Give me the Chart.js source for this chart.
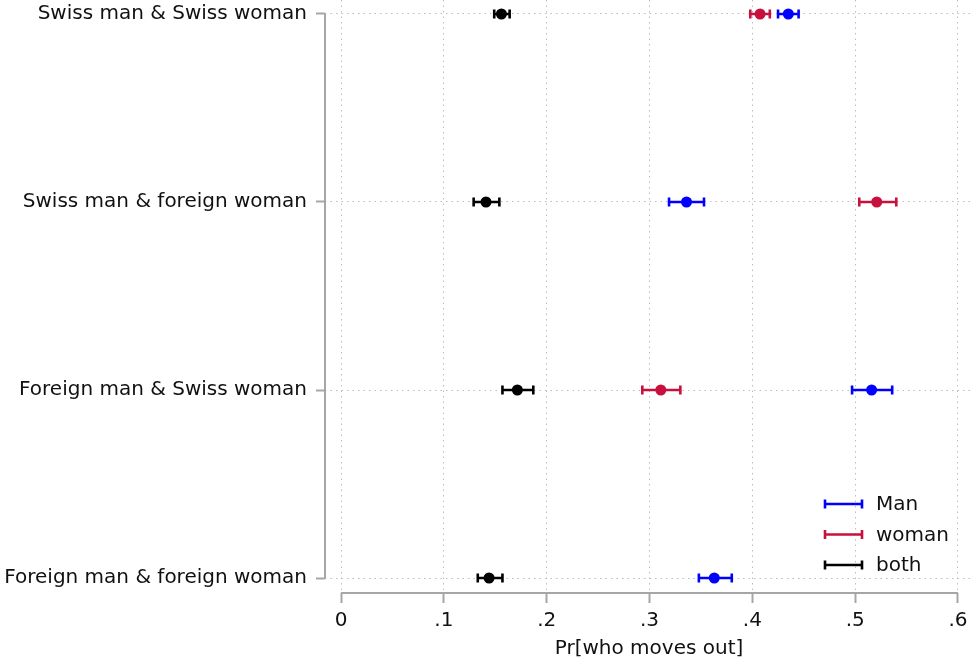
<!DOCTYPE html>
<html>
<head>
<meta charset="utf-8">
<script src="https://cdn.jsdelivr.net/npm/chart.js@4/dist/chart.umd.min.js"></script>
<style>
  html, body { margin: 0; padding: 0; background: #fff; }
  #wrap { width: 973px; height: 661px; position: relative; }
</style>
</head>
<body>
<div id="wrap"><canvas id="c" width="973" height="661"></canvas></div>
<script>
// Categories (index 0 = bottom row)
const categories = [
  "Foreign man & foreign woman",
  "Foreign man & Swiss woman",
  "Swiss man & foreign woman",
  "Swiss man & Swiss woman"
];
const xTicks = [0, 0.1, 0.2, 0.3, 0.4, 0.5, 0.6];
const xTickLabels = ["0", ".1", ".2", ".3", ".4", ".5", ".6"];
const seriesNames = ["Man", "woman", "both"];

const man     = [0.363, 0.516, 0.336, 0.435];
const manLo   = [0.348, 0.497, 0.319, 0.425];
const manHi   = [0.380, 0.536, 0.353, 0.445];
const woman   = [null, 0.311, 0.521, 0.4075];
const womanLo = [null, 0.293, 0.504, 0.398];
const womanHi = [null, 0.330, 0.540, 0.417];
const both    = [0.144, 0.1715, 0.141, 0.156];
const bothLo  = [0.133, 0.157, 0.129, 0.149];
const bothHi  = [0.157, 0.187, 0.154, 0.164];

const colors = ["#0000FF", "#C8103F", "#000000"];
const FONT = "DejaVu Sans";

function pts(vals, lo, hi) {
  const out = [];
  vals.forEach((v, i) => { if (v !== null) out.push({ x: v, y: i, lo: lo[i], hi: hi[i] }); });
  return out;
}

const datasets = [
  { label: seriesNames[0], data: pts(man, manLo, manHi) },
  { label: seriesNames[1], data: pts(woman, womanLo, womanHi) },
  { label: seriesNames[2], data: pts(both, bothLo, bothHi) }
].map((d, i) => Object.assign(d, {
  backgroundColor: colors[i], borderColor: colors[i],
  pointRadius: 5.5, pointHoverRadius: 5.5, borderWidth: 0, showLine: false
}));

const AXIS = "#a6a6a6";
const GRID = "#bdbdbd";

function zeroPad(s) { s.paddingTop = 0; s.paddingBottom = 0; s.paddingLeft = 0; s.paddingRight = 0; }

const stataPlugin = {
  id: "stata",
  beforeDatasetsDraw(chart) {
    const ctx = chart.ctx, xs = chart.scales.x, ys = chart.scales.y;
    ctx.save();
    chart.data.datasets.forEach((ds) => {
      ctx.strokeStyle = ds.borderColor;
      ctx.lineWidth = 2.6;
      ds.data.forEach(p => {
        const y = ys.getPixelForValue(p.y);
        const x1 = xs.getPixelForValue(p.lo), x2 = xs.getPixelForValue(p.hi);
        ctx.beginPath();
        ctx.moveTo(x1, y); ctx.lineTo(x2, y);
        ctx.moveTo(x1, y - 4.5); ctx.lineTo(x1, y + 4.5);
        ctx.moveTo(x2, y - 4.5); ctx.lineTo(x2, y + 4.5);
        ctx.stroke();
      });
    });
    ctx.restore();
  },
  afterDraw(chart) {
    const ctx = chart.ctx, xs = chart.scales.x, ys = chart.scales.y, ca = chart.chartArea;
    ctx.save();
    // axis lines (Stata style, detached)
    ctx.strokeStyle = AXIS; ctx.lineWidth = 2;
    ctx.beginPath();
    ctx.moveTo(ca.left, ys.getPixelForValue(0));
    ctx.lineTo(ca.left, ys.getPixelForValue(categories.length - 1));
    ctx.moveTo(xs.getPixelForValue(xTicks[0]), ca.bottom);
    ctx.lineTo(xs.getPixelForValue(xTicks[xTicks.length - 1]), ca.bottom);
    ctx.stroke();
    // legend
    const lx1 = 825, lx2 = 862, ly0 = 504, dy = 30.5;
    ctx.font = "20px '" + FONT + "'";
    ctx.textBaseline = "middle"; ctx.textAlign = "left";
    chart.data.datasets.forEach((ds, i) => {
      const y = ly0 + i * dy;
      ctx.strokeStyle = ds.borderColor; ctx.lineWidth = 2.6;
      ctx.beginPath();
      ctx.moveTo(lx1, y); ctx.lineTo(lx2, y);
      ctx.moveTo(lx1, y - 4.5); ctx.lineTo(lx1, y + 4.5);
      ctx.moveTo(lx2, y - 4.5); ctx.lineTo(lx2, y + 4.5);
      ctx.stroke();
      ctx.fillStyle = "#111";
      ctx.fillText(ds.label, 876, y + 1);
    });
    ctx.restore();
  }
};

new Chart(document.getElementById("c"), {
  type: "scatter",
  data: { datasets },
  plugins: [stataPlugin],
  options: {
    responsive: false, animation: false,
    layout: { padding: 0, autoPadding: false },
    plugins: { legend: { display: false }, tooltip: { enabled: false } },
    scales: {
      x: {
        type: "linear",
        min: -16 / 1028.3, max: 0.6 + 15 / 1028.3,
        afterBuildTicks: (s) => { s.ticks = xTicks.map(v => ({ value: v })); },
        afterFit: (s) => { s.height = 68; zeroPad(s); },
        ticks: {
          autoSkip: false, maxRotation: 0, padding: 6,
          color: "#111", font: { family: FONT, size: 20 },
          callback: (v) => xTickLabels[xTicks.indexOf(v)] ?? ""
        },
        grid: { color: GRID, lineWidth: 1, tickLength: 10, tickColor: AXIS, tickWidth: 2, tickBorderDash: [0, 0] },
        border: { display: false, dash: [1.5, 4] },
        title: { display: true, text: "Pr[who moves out]", color: "#111", font: { family: FONT, size: 20 }, padding: { top: 0, bottom: 0 } }
      },
      y: {
        type: "linear",
        min: -15 / 188, max: (categories.length - 1) + 14 / 188,
        afterBuildTicks: (s) => { s.ticks = categories.map((c, i) => ({ value: i })); },
        afterFit: (s) => { s.width = 325; zeroPad(s); },
        ticks: {
          autoSkip: false, padding: 9,
          color: "#111", font: { family: FONT, size: 20 },
          callback: (v) => categories[v] ?? ""
        },
        grid: { color: GRID, lineWidth: 1, tickLength: 9, tickColor: AXIS, tickWidth: 2, tickBorderDash: [0, 0] },
        border: { display: false, dash: [1.5, 4] }
      }
    }
  }
});
</script>
</body>
</html>
